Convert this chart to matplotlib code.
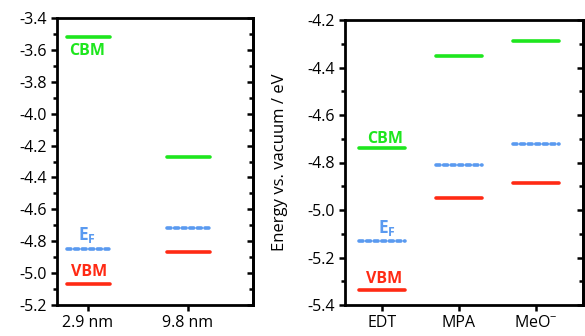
import numpy as np
import matplotlib
matplotlib.use('Agg')
import matplotlib.pyplot as plt

plt.rcParams['font.family'] = ['Open Sans', 'DejaVu Sans']
plt.rcParams['mathtext.fontset'] = 'custom'
plt.rcParams['mathtext.rm'] = 'Open Sans'
plt.rcParams['mathtext.bf'] = 'Open Sans:bold'

# left panel: nanocrystal size
sizes = ['2.9 nm', '9.8 nm']
size_cbm = [-3.52, -4.27]
size_ef = [-4.85, -4.72]
size_vbm = [-5.07, -4.87]

# right panel: ligand
ligands = ['EDT', 'MPA', 'MeO$^{-}$']
lig_cbm = [-4.74, -4.35, -4.29]
lig_ef = [-5.13, -4.81, -4.72]
lig_vbm = [-5.335, -4.95, -4.885]

green = '#1ee61e'
blue = '#5a9af0'
red = '#ff2a14'


def style_axes(ax, ylim, major, minor):
    ax.set_ylim(*ylim)
    ax.set_yticks(np.arange(ylim[0], ylim[1] + 1e-6, major))
    ax.set_yticks(np.arange(ylim[0], ylim[1] + 1e-6, minor), minor=True)
    ax.yaxis.set_major_formatter(matplotlib.ticker.FormatStrFormatter('%.1f'))
    for s in ax.spines.values():
        s.set_linewidth(2)
    ax.tick_params(axis='both', which='major', direction='out', length=4,
                   width=1.8, labelsize=11.5, right=False, top=False)
    ax.tick_params(axis='y', which='minor', direction='out', length=3,
                   width=1.8, right=False)
    sec = ax.secondary_yaxis('right')
    sec.set_yticks(np.arange(ylim[0], ylim[1] + 1e-6, major))
    sec.set_yticks(np.arange(ylim[0], ylim[1] + 1e-6, minor), minor=True)
    sec.tick_params(which='major', direction='in', length=4, width=1.8, labelright=False)
    sec.tick_params(which='minor', direction='in', length=3, width=1.8)
    sec.spines['right'].set_linewidth(2)


def draw_levels(ax, cbm, ef, vbm, hw):
    for i in range(len(cbm)):
        ax.plot([i - hw, i + hw], [cbm[i], cbm[i]], color=green, lw=2.6,
                solid_capstyle='round')
        ax.plot([i - hw, i + hw], [vbm[i], vbm[i]], color=red, lw=2.6,
                solid_capstyle='round')
        ax.plot([i - hw, i + hw], [ef[i], ef[i]], color=blue, lw=2.6,
                dash_capstyle='round', linestyle=(0, (1.1, 1.0)))


fig = plt.figure(figsize=(5.85, 3.36), dpi=100)
ax1 = fig.add_axes([57 / 585, 31 / 336, 196 / 585, 287 / 336])
ax2 = fig.add_axes([345 / 585, 31 / 336, 238 / 585, 285 / 336])

# left
style_axes(ax1, (-5.2, -3.4), 0.2, 0.1)
draw_levels(ax1, size_cbm, size_ef, size_vbm, 0.215)
ax1.set_xlim(-0.31, 1.65)
ax1.set_xticks(range(len(sizes)))
ax1.set_xticklabels(sizes)
ax1.text(-0.01, -3.61, 'CBM', color=green, fontsize=11.5, fontweight='bold',
         ha='center', va='center')
ax1.text(-0.01, -4.76, r'$\mathbf{E_F}$', color=blue, fontsize=12.5,
         ha='center', va='center')
ax1.text(0.01, -4.995, 'VBM', color=red, fontsize=11.5, fontweight='bold',
         ha='center', va='center')

# right
style_axes(ax2, (-5.4, -4.2), 0.2, 0.1)
draw_levels(ax2, lig_cbm, lig_ef, lig_vbm, 0.3)
ax2.set_xlim(-0.48, 2.61)
ax2.set_xticks(range(len(ligands)))
ax2.set_xticklabels(ligands)
ax2.set_ylabel('Energy vs. vacuum / eV', fontsize=12, labelpad=14)
ax2.text(0.04, -4.70, 'CBM', color=green, fontsize=11.5, fontweight='bold',
         ha='center', va='center')
ax2.text(0.06, -5.075, r'$\mathbf{E_F}$', color=blue, fontsize=12.5,
         ha='center', va='center')
ax2.text(0.03, -5.29, 'VBM', color=red, fontsize=11.5, fontweight='bold',
         ha='center', va='center')

fig.savefig('out.png', dpi=100)
